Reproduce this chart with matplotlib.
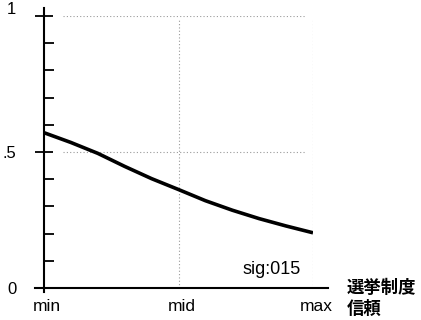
import numpy as np
import matplotlib
matplotlib.use("Agg")
import matplotlib.pyplot as plt
from matplotlib.transforms import ScaledTranslation

# predicted value vs. trust
x_pos = [0.0, 0.1, 0.2, 0.3, 0.4, 0.5, 0.6, 0.7, 0.8, 0.9, 1.0]
y_val = [0.571, 0.535, 0.495, 0.447, 0.402, 0.362, 0.321, 0.286, 0.255, 0.228, 0.203]
x_ticks = [0.0, 0.5, 1.0]
x_labels = ["min", "mid", "max"]
y_ticks = [0.0, 0.5, 1.0]
y_labels = ["0", ".5", ""]   # "1" is drawn a bit higher below, as in the original
y_minor = [0.1, 0.2, 0.3, 0.4, 0.6, 0.7, 0.8, 0.9]
note = "sig:015"
xlab = ["選挙制度", "信頼"]

plt.rcParams["font.family"] = ["Liberation Sans", "DejaVu Sans"]

W, H = 421, 320
fig = plt.figure(figsize=(W / 100, H / 100), dpi=100)
ax = fig.add_axes([44 / W, 1 - 288 / H, (313 - 44) / W, (288 - 16) / H])
ax.set_xlim(0, 1)
ax.set_ylim(0, 1)
for s in ax.spines.values():
    s.set_visible(False)

# dotted reference lines
grid = dict(color="#9a9a9a", lw=0.8, ls=(0, (1, 2)), zorder=1)
for yv in [0.5, 1.0]:
    ax.axhline(yv, xmin=0.07, xmax=0.97, **grid)
for xv in [0.5, 1.0]:
    ax.axvline(xv, ymin=0.0, ymax=0.99, **grid)

ax.plot(x_pos, y_val, color="black", lw=2.6, solid_capstyle="butt", zorder=3)

# axis lines, extended past the plot area like the original
ax.plot([0, 0], [-0.015, 1.03], transform=ax.transAxes, color="black", lw=1.5, clip_on=False)
ax.plot([-0.035, 1.055], [0, 0], transform=ax.transAxes, color="black", lw=1.5, clip_on=False)

# ticks: major ones cross the axis, minor ones point inward
ax.set_yticks(y_ticks)
ax.set_yticklabels(y_labels, fontsize=12)
ax.tick_params(axis="y", which="major", direction="inout", length=13, width=1.3, pad=13.5)
ax.set_yticks(y_minor, minor=True)
ax.tick_params(axis="y", which="minor", direction="in", length=7, width=1.3)
ax.set_xticks(x_ticks)
ax.set_xticklabels(x_labels, fontsize=12.5)
ax.tick_params(axis="x", length=0, pad=8)
for lab in ax.get_xticklabels():
    lab.set_transform(lab.get_transform() + ScaledTranslation(3 / 100, 0, fig.dpi_scale_trans))

t1 = ax.text(-0.105, 1.0, "1", ha="right", va="center", fontsize=12)
t1.set_transform(ax.transAxes + ScaledTranslation(0, 6 / 100, fig.dpi_scale_trans))

ax.text(0.956, 0.035, note, transform=ax.transAxes, ha="right", va="bottom", fontsize=13)
cjk = ["Noto Sans CJK JP", "DejaVu Sans"]
ax.text(1.126, 0.0, xlab[0], transform=ax.transAxes, ha="left", va="center",
        fontsize=12.5, fontweight="bold", family=cjk)
ax.text(1.126, -0.077, xlab[1], transform=ax.transAxes, ha="left", va="center",
        fontsize=12.5, fontweight="bold", family=cjk)

fig.savefig("out.png", dpi=100)
